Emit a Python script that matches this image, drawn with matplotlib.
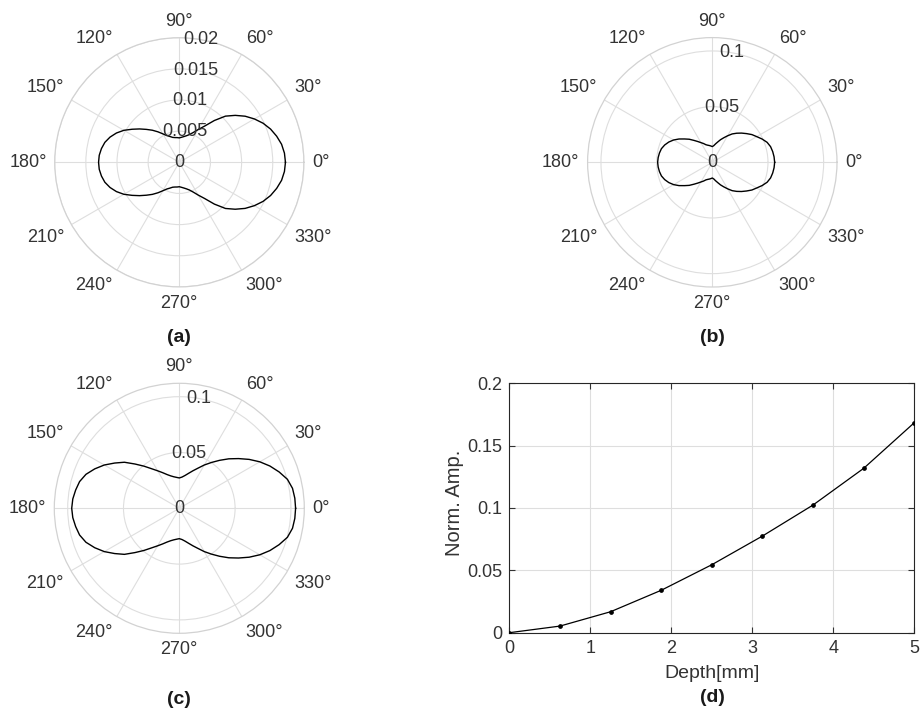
import numpy as np
import matplotlib
matplotlib.use("Agg")
import matplotlib.pyplot as plt
from matplotlib.transforms import offset_copy

plt.rcParams['font.family'] = ['Liberation Sans', 'DejaVu Sans']

# ---- Directivity patterns: amplitude vs angle (upper half, 0..180 deg, 5 deg step) ----
angles_deg = list(range(0, 181, 5))

pattern_a = [0.01704, 0.01694, 0.01667, 0.01618, 0.01559, 0.01484, 0.01392, 0.01290,
             0.01172, 0.01048, 0.00876, 0.00710, 0.00608, 0.00527, 0.00473, 0.00441,
             0.00419, 0.00403, 0.00392, 0.00398, 0.00403, 0.00414, 0.00441, 0.00473,
             0.00527, 0.00597, 0.00672, 0.00747, 0.00833, 0.00925, 0.01027, 0.01113,
             0.01183, 0.01237, 0.01269, 0.01290, 0.01296]

pattern_b = [0.0560, 0.0557, 0.0551, 0.0542, 0.0524, 0.0494, 0.0461, 0.0434,
             0.0401, 0.0371, 0.0341, 0.0311, 0.0275, 0.0243, 0.0216, 0.0189,
             0.0168, 0.0150, 0.0141, 0.0147, 0.0153, 0.0159, 0.0168, 0.0186,
             0.0204, 0.0228, 0.0257, 0.0293, 0.0326, 0.0365, 0.0401, 0.0431,
             0.0455, 0.0473, 0.0482, 0.0488, 0.0491]

pattern_c = [0.1042, 0.1039, 0.1030, 0.1003, 0.0952, 0.0896, 0.0833, 0.0764,
             0.0693, 0.0627, 0.0561, 0.0501, 0.0448, 0.0397, 0.0358, 0.0325,
             0.0299, 0.0281, 0.0272, 0.0278, 0.0287, 0.0301, 0.0322, 0.0352,
             0.0388, 0.0433, 0.0493, 0.0561, 0.0642, 0.0707, 0.0776, 0.0836,
             0.0890, 0.0925, 0.0943, 0.0958, 0.0964]

# ---- Amplitude vs depth ----
depth_mm = [0, 0.625, 1.25, 1.875, 2.5, 3.125, 3.75, 4.375, 5.0]
norm_amp = [0.0, 0.0053, 0.0168, 0.0340, 0.0545, 0.0775, 0.1024, 0.1318, 0.1684]

r_ticks_a = [0.005, 0.01, 0.015, 0.02]
r_labels_a = ['0.005', '0.01', '0.015', '0.02']
r_ticks_bc = [0.05, 0.1]
r_labels_bc = ['0.05', '0.1']
theta_ticks = list(range(0, 360, 30))

TXT = '#333333'
GRID = '#dedede'
W, H = 921, 714

fig = plt.figure(figsize=(W / 100, H / 100), dpi=100)


def px_box(cx, cy, r):
    return [(cx - r) / W, (H - cy - r) / H, 2 * r / W, 2 * r / H]


def polar_panel(box, values, rmax, rticks, rlabels, fs=13):
    ax = fig.add_axes(box, projection='polar')
    th = np.deg2rad(angles_deg)
    vals = np.asarray(values)
    # mirror the upper half to complete the symmetric pattern
    theta = np.concatenate([th, 2 * np.pi - th[::-1][1:]])
    r = np.concatenate([vals, vals[::-1][1:]])
    ax.plot(theta, r, color='black', lw=1.0, zorder=3)
    ax.set_rlim(0, rmax)
    ax.set_rticks(rticks)
    ax.set_yticklabels([])
    ax.set_thetagrids(theta_ticks, labels=[''] * len(theta_ticks))
    ax.grid(True, color=GRID, lw=0.8)
    ax.spines['polar'].set_color('#d2d2d2')
    ax.spines['polar'].set_linewidth(0.9)
    ax.tick_params(length=0)
    # radial labels along the 80 deg line
    ax.text(0, 0, '0', ha='center', va='center', fontsize=fs, color=TXT, zorder=4)
    for rv, lab in zip(rticks, rlabels):
        ax.text(np.deg2rad(80), rv, lab, ha='center', va='center',
                fontsize=fs, color=TXT, zorder=4)
    # angular labels outside the rim
    gap = 5.8
    for t in theta_ticks:
        a = np.deg2rad(t)
        c, s = np.cos(a), np.sin(a)
        ha = 'left' if c > 0.1 else ('right' if c < -0.1 else 'center')
        va = 'bottom' if s > 0.1 else ('top' if s < -0.1 else 'center')
        tr = offset_copy(ax.transData, fig=fig, x=gap * c, y=gap * s, units='points')
        ax.text(a, rmax, f'{t}\u00b0', transform=tr, ha=ha, va=va,
                fontsize=fs, color=TXT, clip_on=False)
    return ax


polar_panel(px_box(179.3, 162.3, 124.6), pattern_a, 0.02, r_ticks_a, r_labels_a)
polar_panel(px_box(712.3, 162.3, 124.7), pattern_b, 0.112, r_ticks_bc, r_labels_bc)
polar_panel(px_box(179.3, 508.3, 125.0), pattern_c, 0.112, r_ticks_bc, r_labels_bc)

# ---- Panel (d) ----
x0, x1, y0, y1 = 509.3, 914.3, 383.3, 632.7
axd = fig.add_axes([x0 / W, (H - y1) / H, (x1 - x0) / W, (y1 - y0) / H])
axd.plot(depth_mm, norm_amp, color='black', lw=0.9, marker='o', ms=2.4, zorder=3)
axd.set_xlim(0, 5)
axd.set_ylim(0, 0.2)
axd.set_xticks([0, 1, 2, 3, 4, 5])
axd.set_yticks([0, 0.05, 0.1, 0.15, 0.2])
axd.set_yticklabels(['0', '0.05', '0.1', '0.15', '0.2'])
axd.grid(True, color=GRID, lw=0.8)
axd.set_axisbelow(True)
for sp in axd.spines.values():
    sp.set_color('#262626')
    sp.set_linewidth(0.8)
axd.tick_params(direction='in', length=4, width=0.8, colors=TXT, labelsize=13,
                top=True, right=True, pad=5)
axd.set_xlabel('Depth[mm]', fontsize=14, color=TXT, va='center')
axd.xaxis.set_label_coords(0.5, (y1 - 673) / (y1 - y0))
axd.set_ylabel('Norm. Amp.', fontsize=14.5, color=TXT, va='center')
axd.yaxis.set_label_coords((454 - x0) / (x1 - x0), (y1 - 503) / (y1 - y0))

# ---- Panel captions ----
for lab, cx, cy in [('(a)', 179.3, 337), ('(b)', 712.3, 337),
                    ('(c)', 179.3, 699), ('(d)', 712.0, 697)]:
    fig.text(cx / W, 1 - cy / H, lab, ha='center', va='center',
             fontsize=14, fontweight='bold', color='#1a1a1a')

fig.savefig('out.png', dpi=100)
